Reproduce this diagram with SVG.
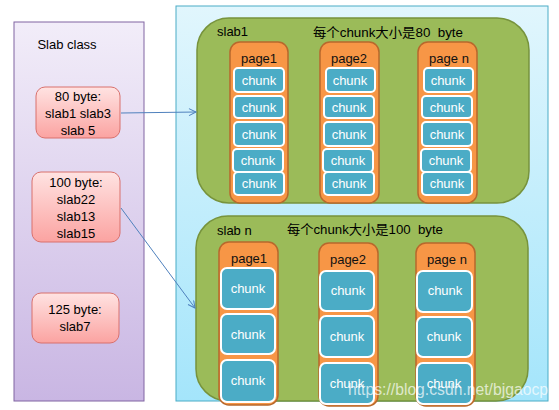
<svg xmlns="http://www.w3.org/2000/svg" width="559" height="410" viewBox="0 0 559 410">
<defs>
<linearGradient id="gPurple" x1="0" y1="0" x2="0" y2="1"><stop offset="0" stop-color="#f2edf9"/><stop offset="1" stop-color="#c9b6e3"/></linearGradient>
<linearGradient id="gCyan" x1="0" y1="0" x2="0" y2="1"><stop offset="0" stop-color="#e1f6fd"/><stop offset="1" stop-color="#a4e5fb"/></linearGradient>
<linearGradient id="gPink" x1="0" y1="0" x2="0" y2="1"><stop offset="0" stop-color="#ffe3e2"/><stop offset="1" stop-color="#fba3a1"/></linearGradient>
<marker id="arr" markerWidth="10" markerHeight="10" refX="8" refY="4" orient="auto" markerUnits="userSpaceOnUse"><path d="M1,0.5 L8,4 L1,7.5" fill="none" stroke="#4f81bd" stroke-width="1"/></marker>
<style>
text{font-family:"Liberation Sans","Noto Sans CJK SC",sans-serif;}
.pink{fill:url(#gPink);stroke:#d9716d;stroke-width:1;}
.lbl{font-size:13px;fill:#000;text-anchor:middle;}
.slab{fill:#9bbb59;stroke:#77933c;stroke-width:1.5;}
.page{fill:#f79646;stroke:#b8682c;stroke-width:1.5;}
.chunk{fill:#4bacc6;stroke:#ffffff;stroke-width:2;}
.ct{font-size:13px;fill:#ffffff;text-anchor:middle;}
.pt{font-size:13px;fill:#111;text-anchor:middle;}
.st{font-size:13px;fill:#000;}
.conn{fill:none;stroke:#4f81bd;stroke-width:1;marker-end:url(#arr);}
</style>
</defs>
<rect width="559" height="410" fill="#ffffff"/>
<g id="slab-class-panel">
<rect x="14" y="22" width="130" height="379" fill="url(#gPurple)" stroke="#8064a2" stroke-width="1"/>
<text x="67" y="49" class="lbl" font-size="12.5">Slab class</text>
</g>
<g id="class-80">
<rect x="36" y="87" width="84" height="51" rx="9" class="pink"/>
<text class="lbl" x="78" y="101">80 byte:</text>
<text class="lbl" x="78" y="118">slab1 slab3</text>
<text class="lbl" x="78" y="135">slab 5</text>
</g>
<g id="class-100">
<rect x="32" y="172" width="88" height="70" rx="9" class="pink"/>
<text class="lbl" x="76" y="187">100 byte:</text>
<text class="lbl" x="76" y="204">slab22</text>
<text class="lbl" x="76" y="221">slab13</text>
<text class="lbl" x="76" y="238">slab15</text>
</g>
<g id="class-125">
<rect x="32" y="293" width="87" height="50" rx="9" class="pink"/>
<text class="lbl" x="75" y="314">125 byte:</text>
<text class="lbl" x="75" y="331">slab7</text>
</g>
<g id="memory-panel">
<rect x="176" y="6" width="372" height="395" fill="url(#gCyan)" stroke="#4bacc6" stroke-width="1"/>
</g>
<g id="slab1">
<rect x="197" y="18" width="332" height="185" rx="32" class="slab"/>
<text class="st" x="217" y="36">slab1</text>
<text class="st" x="313" y="37" xml:space="preserve" textLength="150" lengthAdjust="spacingAndGlyphs">每个chunk大小是80  byte</text>
</g>
<g id="slab1-page1">
<rect x="230" y="42" width="58" height="161" rx="10" class="page"/>
<text class="pt" x="259" y="63">page1</text>
<rect x="234" y="68" width="50" height="24" rx="4" class="chunk"/><text class="ct" x="259" y="85">chunk</text>
<rect x="234" y="96" width="50" height="22" rx="4" class="chunk"/><text class="ct" x="259" y="112">chunk</text>
<rect x="234" y="122" width="50" height="24" rx="4" class="chunk"/><text class="ct" x="259" y="139">chunk</text>
<rect x="233" y="149" width="50" height="23" rx="4" class="chunk"/><text class="ct" x="258" y="165">chunk</text>
<rect x="234" y="172" width="50" height="23" rx="4" class="chunk"/><text class="ct" x="259" y="188">chunk</text>
</g>
<g id="slab1-page2">
<rect x="320" y="42" width="59" height="161" rx="10" class="page"/>
<text class="pt" x="349" y="63">page2</text>
<rect x="326" y="68" width="49" height="24" rx="4" class="chunk"/><text class="ct" x="350" y="85">chunk</text>
<rect x="324" y="96" width="50" height="22" rx="4" class="chunk"/><text class="ct" x="349" y="112">chunk</text>
<rect x="324" y="122" width="50" height="24" rx="4" class="chunk"/><text class="ct" x="349" y="139">chunk</text>
<rect x="323" y="149" width="50" height="23" rx="4" class="chunk"/><text class="ct" x="348" y="165">chunk</text>
<rect x="324" y="172" width="50" height="23" rx="4" class="chunk"/><text class="ct" x="349" y="188">chunk</text>
</g>
<g id="slab1-pagen">
<rect x="418" y="42" width="59" height="161" rx="10" class="page"/>
<text class="pt" x="449" y="63">page n</text>
<rect x="424" y="68" width="49" height="24" rx="4" class="chunk"/><text class="ct" x="448" y="85">chunk</text>
<rect x="422" y="96" width="50" height="22" rx="4" class="chunk"/><text class="ct" x="447" y="112">chunk</text>
<rect x="422" y="122" width="50" height="24" rx="4" class="chunk"/><text class="ct" x="447" y="139">chunk</text>
<rect x="421" y="149" width="50" height="23" rx="4" class="chunk"/><text class="ct" x="446" y="165">chunk</text>
<rect x="422" y="172" width="50" height="23" rx="4" class="chunk"/><text class="ct" x="447" y="188">chunk</text>
</g>
<g id="slabn">
<rect x="196" y="216" width="332" height="185" rx="32" class="slab"/>
<text class="st" x="217" y="235">slab n</text>
<text class="st" x="287" y="234" xml:space="preserve" textLength="156" lengthAdjust="spacingAndGlyphs">每个chunk大小是100  byte</text>
</g>
<g id="slabn-page1">
<rect x="219" y="242" width="59" height="163" rx="10" class="page"/>
<text class="pt" x="249" y="263">page1</text>
<rect x="221" y="268" width="54" height="41" rx="6" class="chunk"/><text class="ct" x="248" y="293">chunk</text>
<rect x="221" y="314" width="54" height="40" rx="6" class="chunk"/><text class="ct" x="248" y="339">chunk</text>
<rect x="221" y="360" width="54" height="42" rx="6" class="chunk"/><text class="ct" x="248" y="385">chunk</text>
</g>
<g id="slabn-page2">
<rect x="319" y="243" width="59" height="163" rx="10" class="page"/>
<text class="pt" x="348" y="264">page2</text>
<rect x="320" y="271" width="54" height="40" rx="6" class="chunk"/><text class="ct" x="348" y="295">chunk</text>
<rect x="320" y="316" width="54" height="41" rx="6" class="chunk"/><text class="ct" x="347" y="341">chunk</text>
<rect x="320" y="363" width="54" height="41" rx="6" class="chunk"/><text class="ct" x="347" y="388">chunk</text>
</g>
<g id="slabn-pagen">
<rect x="416" y="243" width="59" height="163" rx="10" class="page"/>
<text class="pt" x="447" y="264">page n</text>
<rect x="417" y="271" width="55" height="41" rx="6" class="chunk"/><text class="ct" x="445" y="295">chunk</text>
<rect x="417" y="317" width="55" height="40" rx="6" class="chunk"/><text class="ct" x="444" y="341">chunk</text>
<rect x="417" y="363" width="55" height="41" rx="6" class="chunk"/><text class="ct" x="444" y="388">chunk</text>
</g>
<g id="connectors">
<path class="conn" d="M121,113 L196,112"/>
<path class="conn" d="M121,208 L195,308"/>
</g>
<text x="348" y="395" font-size="16" fill="#ffffff" fill-opacity="0.7" textLength="200" lengthAdjust="spacingAndGlyphs">https://blog.csdn.net/bjgaocp</text>
</svg>
